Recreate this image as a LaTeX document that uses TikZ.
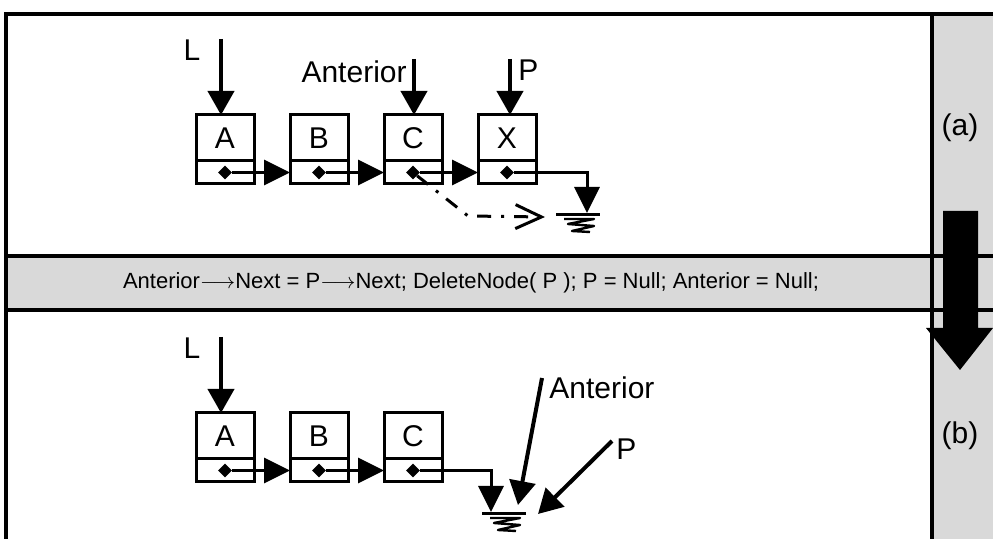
\documentclass[tikz,border=0pt]{standalone}
\usepackage{fontspec}
\setmainfont{Liberation Sans}
\usetikzlibrary{positioning,arrows.meta,shapes.geometric}
\definecolor{bandgray}{HTML}{D9D9D9}
\newcommand{\lblfont}{\fontsize{15}{18}\selectfont}
\newcommand{\codefont}{\fontsize{11}{13}\selectfont}
\tikzset{
    earth/.pic={
        \draw[line width=1.5pt] (-22,0) -- (22,0);
        \draw[line width=1.2pt, line join=round] (-14,4) -- (16,4) -- (-10,9) -- (16,11) -- (-6,16) -- (12,17);
    }
}
\begin{document}
\begin{tikzpicture}[x=0.5pt, y=-0.5pt,
        cell/.style={draw, line width=1.5pt, minimum width=29pt, outer sep=0pt, inner sep=0pt, font=\lblfont},
        datacell/.style={cell, minimum height=23pt},
        linkcell/.style={cell, minimum height=11.5pt},
        ptr/.style={diamond, fill, inner sep=0pt, minimum size=7pt},
        link/.style={line width=1.5pt, -{Triangle[length=13pt, width=12.5pt]}},
        pointer/.style={line width=2pt, -{Triangle[length=12pt, width=13pt]}},
        nullptr/.style={line width=1.5pt, dash pattern=on 7pt off 5pt on 1.5pt off 5pt,
            -{Straight Barb[length=13pt, width=12pt]}},
        frame/.style={line width=2pt},
        lbl/.style={font=\lblfont, inner sep=0pt}]
    \useasboundingbox (0,0) rectangle (993,539);
    % panels
    \fill[bandgray] (932,14) rectangle (993,539);
    \fill[bandgray] (6,256) rectangle (993,310);
    \draw[frame] (6,539) -- (6,14) -- (993,14);
    \draw[frame] (932,14) -- (932,539);
    \draw[frame] (6,256) -- (993,256);
    \draw[frame] (6,310) -- (993,310);
    \node[font=\codefont] (code) at (471,283)
        {Anterior$\longrightarrow$Next = P$\longrightarrow$Next; DeleteNode( P ); P = Null; Anterior = Null;};
    \fill (943,211) -- (978,211) -- (978,328) -- (993,328) -- (960,370) -- (926,328) -- (943,328) -- cycle;
    \node[lbl] (capa) at (960,128) {(a)};
    \node[lbl] (capb) at (960,436) {(b)};

    % (a) list before deletion
    \node[datacell] (topA) at (225,138) {A};
    \node[datacell, right=18pt of topA] (topB) {B};
    \node[datacell, right=18pt of topB] (topC) {C};
    \node[datacell, right=18pt of topC] (topX) {X};
    \node[linkcell, below=0pt of topA] (topAl) {};
    \node[linkcell, below=0pt of topB] (topBl) {};
    \node[linkcell, below=0pt of topC] (topCl) {};
    \node[linkcell, below=0pt of topX] (topXl) {};
    \node[ptr] (dA) at (topAl) {};
    \node[ptr] (dB) at (topBl) {};
    \node[ptr] (dC) at (topCl) {};
    \node[ptr] (dX) at (topXl) {};
    \draw[link] (dA) -- (topBl.west);
    \draw[link] (dB) -- (topCl.west);
    \draw[link] (dC) -- (topXl.west);
    \coordinate (nullA) at (587,213);
    \draw[link] (dX) -| (nullA);
    \pic at (578,215) {earth};
    \coordinate (bendA) at (468,216);
    \coordinate (oldA) at (545,217);
    \draw[nullptr] (dC) -- (bendA) -- (oldA);

    \node[lbl] (La) at (192,50) {L};
    \coordinate (Ltop) at (221,39);
    \draw[pointer] (Ltop) -- (Ltop |- topA.north);
    \node[lbl, anchor=east] (anta) at (407,72) {Anterior};
    \coordinate (anttop) at (414,59);
    \draw[pointer] (anttop) -- (anttop |- topC.north);
    \node[lbl, anchor=west] (Pa) at (518,70) {P};
    \coordinate (Ptop) at (510,59);
    \draw[pointer] (Ptop) -- (Ptop |- topX.north);

    % (b) list after deletion
    \node[datacell] (botA) at (225,436) {A};
    \node[datacell, right=18pt of botA] (botB) {B};
    \node[datacell, right=18pt of botB] (botC) {C};
    \node[linkcell, below=0pt of botA] (botAl) {};
    \node[linkcell, below=0pt of botB] (botBl) {};
    \node[linkcell, below=0pt of botC] (botCl) {};
    \node[ptr] (eA) at (botAl) {};
    \node[ptr] (eB) at (botBl) {};
    \node[ptr] (eC) at (botCl) {};
    \draw[link] (eA) -- (botBl.west);
    \draw[link] (eB) -- (botCl.west);
    \coordinate (nullB) at (491,512);
    \draw[link] (eC) -| (nullB);
    \pic at (504,514) {earth};

    \node[lbl] (Lb) at (192,348) {L};
    \coordinate (Lbtop) at (221,337);
    \draw[pointer] (Lbtop) -- (Lbtop |- botA.north);
    \node[lbl, anchor=west] (antb) at (549,388) {Anterior};
    \coordinate (antbtop) at (542,378);
    \coordinate (antbend) at (518,505);
    \draw[pointer] (antbtop) -- (antbend);
    \node[lbl, anchor=west] (Pb) at (616,449) {P};
    \coordinate (Pbtop) at (612,441);
    \coordinate (Pbend) at (538,514);
    \draw[pointer] (Pbtop) -- (Pbend);
\end{tikzpicture}
\end{document}
